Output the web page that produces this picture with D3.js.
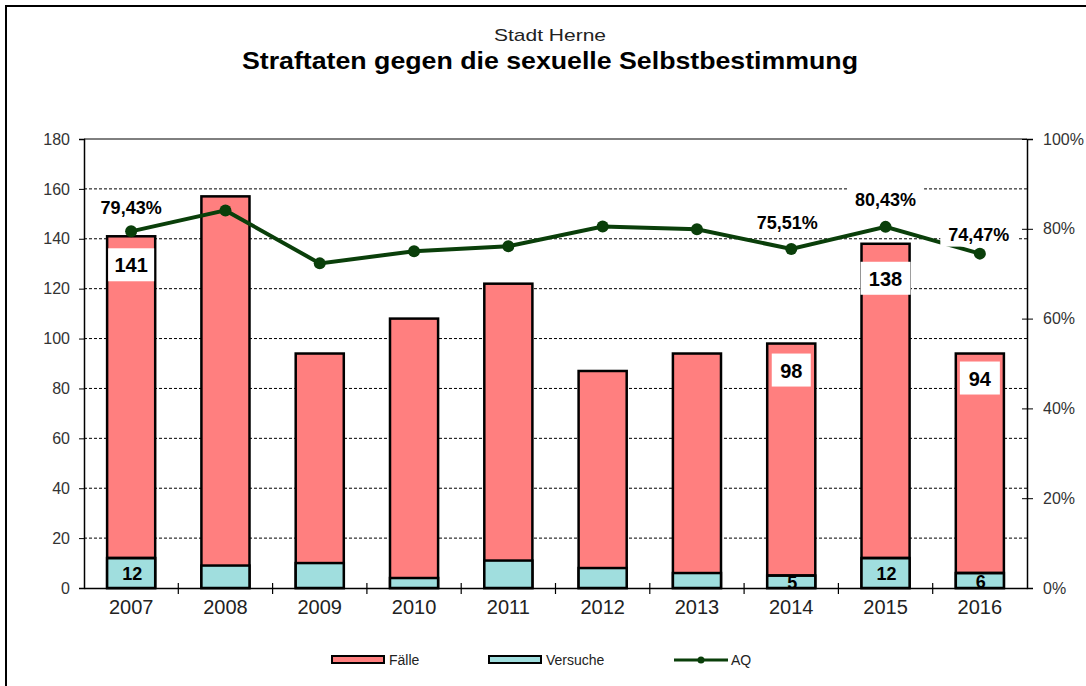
<!DOCTYPE html>
<html lang="de">
  <head>
    <meta charset="utf-8">
    <title>Straftaten gegen die sexuelle Selbstbestimmung</title>
    <script src="https://cdnjs.cloudflare.com/ajax/libs/d3/7.8.5/d3.min.js"></script>
    <style>
      body { margin: 0; background: #fff; }
      text { font-family: "Liberation Sans", Arial, sans-serif; }
    </style>
  </head>
  <body>
    <script>
      // data
      var years = ["2007","2008","2009","2010","2011","2012","2013","2014","2015","2016"];
      var faelle = [141, 157, 94, 108, 122, 87, 94, 98, 138, 94];
      var versuche = [12, 9, 10, 4, 11, 8, 6, 5, 12, 6];
      var aq = [79.43, 84.1, 72.3, 75.0, 76.1, 80.5, 79.9, 75.51, 80.43, 74.47];
      var leftTicks = [0, 20, 40, 60, 80, 100, 120, 140, 160, 180];
      var rightTicks = [0, 20, 40, 60, 80, 100];
      // which points get a value label
      var faelleLabels = ["2007", "2014", "2015", "2016"];
      var versucheLabels = ["2007", "2014", "2015", "2016"];
      var aqLabels = ["2007", "2014", "2015", "2016"];

      var W = 1086, H = 686;
      var pL = 84, pR = 1027, pT = 139, pB = 588;

      var svg = d3.select("body").append("svg")
                  .attr("width", W)
                  .attr("height", H);

      // outer frame
      svg.append("rect")
         .attr("x", 6).attr("y", 6)
         .attr("width", W + 10).attr("height", H + 10)
         .attr("fill", "none").attr("stroke", "#000").attr("stroke-width", 2);

      svg.append("text").attr("x", 550).attr("y", 41)
         .attr("text-anchor", "middle").style("font-size", "17px").attr("fill", "#222")
         .attr("textLength", 112).attr("lengthAdjust", "spacingAndGlyphs")
         .text("Stadt Herne");
      svg.append("text").attr("x", 550).attr("y", 69)
         .attr("text-anchor", "middle").style("font-size", "24px").style("font-weight", "bold")
         .attr("textLength", 616).attr("lengthAdjust", "spacingAndGlyphs")
         .text("Straftaten gegen die sexuelle Selbstbestimmung");

      var x = d3.scaleBand().domain(years).range([pL, pR]);
      var y = d3.scaleLinear().domain([0, 180]).range([pB, pT]);
      var y2 = d3.scaleLinear().domain([0, 100]).range([pB, pT]);
      var bw = x.bandwidth() * 0.51;

      // grid
      svg.selectAll("line.grid")
         .data(leftTicks.filter(function(d) { return d > 0 && d < 180; }))
         .enter().append("line")
         .attr("x1", pL).attr("x2", pR)
         .attr("y1", function(d) { return y(d); }).attr("y2", function(d) { return y(d); })
         .attr("stroke", "#000").attr("stroke-width", 1).attr("stroke-dasharray", "3,2");
      svg.append("line").attr("x1", pL).attr("x2", pR).attr("y1", pT).attr("y2", pT)
         .attr("stroke", "#000").attr("stroke-width", 1);

      // left axis
      var ax = svg.append("g").attr("transform", "translate(" + pL + ",0)")
         .call(d3.axisLeft(y).tickValues(leftTicks).tickSize(5).tickPadding(9));
      ax.select(".domain").attr("stroke", "#000").attr("stroke-width", 1.5);
      ax.selectAll("text").style("font-size", "16px").attr("fill", "#333")
        .style("font-family", "Liberation Sans, Arial, sans-serif");

      // right axis
      var ax2 = svg.append("g").attr("transform", "translate(" + pR + ",0)")
         .call(d3.axisRight(y2).tickValues(rightTicks).tickSize(6).tickPadding(10)
                 .tickFormat(function(d) { return d + "%"; }));
      ax2.select(".domain").attr("stroke", "#000").attr("stroke-width", 1.5);
      ax2.selectAll(".tick line").attr("x1", -5);
      ax2.selectAll("text").style("font-size", "16px").attr("fill", "#333")
         .style("font-family", "Liberation Sans, Arial, sans-serif");

      // bars
      svg.selectAll("rect.faelle")
         .data(faelle)
         .enter().append("rect")
         .attr("x", function(d, i) { return x(years[i]) + (x.bandwidth() - bw) / 2; })
         .attr("y", function(d) { return y(d); })
         .attr("width", bw)
         .attr("height", function(d) { return pB - y(d); })
         .attr("fill", "#ff7f7f").attr("stroke", "#000").attr("stroke-width", 2.5);

      svg.selectAll("rect.versuche")
         .data(versuche)
         .enter().append("rect")
         .attr("x", function(d, i) { return x(years[i]) + (x.bandwidth() - bw) / 2; })
         .attr("y", function(d) { return y(d); })
         .attr("width", bw)
         .attr("height", function(d) { return pB - y(d); })
         .attr("fill", "#a0dede").attr("stroke", "#000").attr("stroke-width", 2.5);

      // bottom axis
      var axb = svg.append("g").attr("transform", "translate(0," + pB + ")")
         .call(d3.axisBottom(x).tickSize(0).tickPadding(12));
      axb.select(".domain").attr("stroke", "#000").attr("stroke-width", 1.5);
      axb.selectAll("text").style("font-size", "20px").attr("fill", "#222")
         .style("font-family", "Liberation Sans, Arial, sans-serif");
      svg.selectAll("line.sep")
         .data(years.slice(1))
         .enter().append("line")
         .attr("x1", function(d) { return x(d); }).attr("x2", function(d) { return x(d); })
         .attr("y1", pB - 5).attr("y2", pB + 6)
         .attr("stroke", "#000").attr("stroke-width", 1.2);

      // AQ line
      var line = d3.line()
         .x(function(d, i) { return x(years[i]) + x.bandwidth() / 2; })
         .y(function(d) { return y2(d); });
      svg.append("path").datum(aq)
         .attr("d", line).attr("fill", "none")
         .attr("stroke", "#0a3f0a").attr("stroke-width", 4);
      svg.selectAll("circle.aq")
         .data(aq)
         .enter().append("circle")
         .attr("cx", function(d, i) { return x(years[i]) + x.bandwidth() / 2; })
         .attr("cy", function(d) { return y2(d); })
         .attr("r", 6).attr("fill", "#0a3f0a");

      function fmt(v) { return v.toFixed(2).replace(".", ",") + "%"; }

      // label placement tweaks, like the hand-moved labels in the original
      var faelleOff = {"2007": 29, "2014": 27, "2015": 35, "2016": 25};
      var faelleBox = {"2007": 46, "2014": 39, "2015": 50, "2016": 40};
      var aqOff = {"2007": -17, "2014": -20, "2015": -21, "2016": -13};
      var aqDx = {"2007": 0, "2014": -4, "2015": 0, "2016": -1};

      years.forEach(function(yr, i) {
        var cx = x(yr) + x.bandwidth() / 2;
        if (faelleLabels.indexOf(yr) >= 0) {
          var ly = y(faelle[i]) + faelleOff[yr];
          var w = faelleBox[yr];
          svg.append("rect").attr("x", cx - w / 2).attr("y", ly - 17)
             .attr("width", w).attr("height", 33).attr("fill", "#fff");
          svg.append("text").attr("x", cx).attr("y", ly + 7)
             .attr("text-anchor", "middle").style("font-size", "20px").style("font-weight", "bold")
             .text(faelle[i]);
        }
        if (aqLabels.indexOf(yr) >= 0) {
          var by = y2(aq[i]) + aqOff[yr];
          var ax0 = cx + aqDx[yr];
          var t = svg.append("text").attr("x", ax0).attr("y", by)
             .attr("text-anchor", "middle").style("font-size", "18px").style("font-weight", "bold")
             .text(fmt(aq[i]));
          var bb = t.node().getBBox();
          svg.insert("rect", function() { return t.node(); })
             .attr("x", bb.x - 8).attr("y", by - 19)
             .attr("width", bb.width + 16).attr("height", 25).attr("fill", "#fff");
        }
        if (versucheLabels.indexOf(yr) >= 0) {
          var x0 = x(yr) + (x.bandwidth() - bw) / 2;
          svg.append("text").attr("x", cx + 1).attr("y", pB - (pB - y(versuche[i])) / 2 + 7)
             .attr("text-anchor", "middle").style("font-size", "18px").style("font-weight", "bold")
             .text(versuche[i]);
          // the segment border sits on top of the label, as in the original
          svg.append("line").attr("x1", x0).attr("x2", x0 + bw)
             .attr("y1", y(versuche[i])).attr("y2", y(versuche[i]))
             .attr("stroke", "#000").attr("stroke-width", 2.5);
        }
      });

      // legend
      var legend = [
        {name: "Fälle", x: 332, fill: "#ff7f7f"},
        {name: "Versuche", x: 489, fill: "#a0dede"},
        {name: "AQ", x: 674, fill: null}
      ];
      legend.forEach(function(l) {
        if (l.fill) {
          svg.append("rect").attr("x", l.x).attr("y", 656).attr("width", 52).attr("height", 7)
             .attr("fill", l.fill).attr("stroke", "#000").attr("stroke-width", 2);
        } else {
          svg.append("line").attr("x1", l.x).attr("x2", l.x + 54).attr("y1", 660).attr("y2", 660)
             .attr("stroke", "#0a3f0a").attr("stroke-width", 3);
          svg.append("circle").attr("cx", l.x + 27).attr("cy", 660).attr("r", 3.5).attr("fill", "#0a3f0a");
        }
        svg.append("text").attr("x", l.x + 57).attr("y", 665)
           .style("font-size", "14px").attr("fill", "#222").text(l.name);
      });
    </script>
  </body>
</html>
